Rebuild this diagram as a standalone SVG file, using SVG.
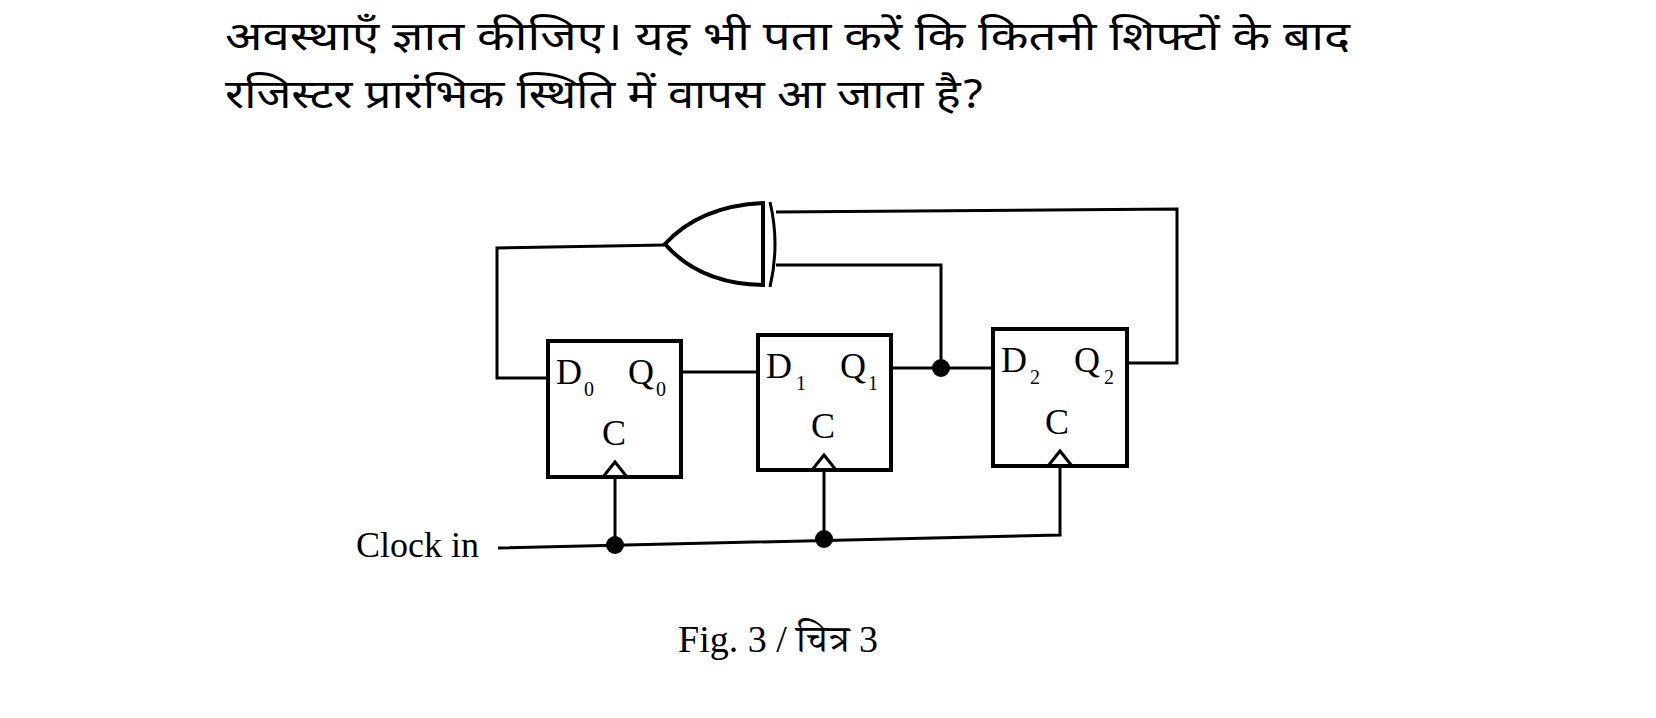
<svg xmlns="http://www.w3.org/2000/svg" width="1656" height="718" viewBox="0 0 1656 718">
<style>
.w{fill:none;stroke:#000;stroke-width:3}
.b{fill:#fff;stroke:#000;stroke-width:4}
.t{font-family:"Liberation Serif","Noto Serif",serif;font-size:36px;fill:#000}
.s{font-family:"Liberation Serif",serif;font-size:20px;fill:#000}
.h{font-family:"Noto Sans Devanagari","Noto Sans","Liberation Sans",sans-serif;font-size:40px;fill:#000}
</style>
<rect width="1656" height="718" fill="#fff"/>
<text class="h" x="225" y="50" textLength="1125" lengthAdjust="spacingAndGlyphs">अवस्थाएँ ज्ञात कीजिए। यह भी पता करें कि कितनी शिफ्टों के बाद</text>
<text class="h" x="225" y="108" textLength="760" lengthAdjust="spacingAndGlyphs">रजिस्टर प्रारंभिक स्थिति में वापस आ जाता है?</text>
<g id="connectors">
<polyline class="w" points="665,245 497,248 497,378 548,378"/>
<line class="w" x1="681" y1="372" x2="758" y2="372"/>
<line class="w" x1="891" y1="368" x2="993" y2="368"/>
<polyline class="w" points="941,368 941,265 776,265"/>
<polyline class="w" points="1127,363 1177,363 1177,209 776,212"/>
<polyline class="w" points="498,548 1060,535 1060,466"/>
<line class="w" x1="615" y1="545" x2="615" y2="477"/>
<line class="w" x1="824" y1="539" x2="824" y2="470"/>
<circle cx="941" cy="368" r="9"/>
<circle cx="615" cy="545" r="9"/>
<circle cx="824" cy="539" r="9"/>
</g>
<g id="xor">
<path class="b" d="M665,244 Q700,206 763,203 L763,285 Q700,284 665,244 Z"/>
<path class="w" stroke-width="4" d="M770,202 Q780,244 770,287"/>
</g>
<g id="ff0">
<rect class="b" x="548" y="341" width="133" height="136"/>
<path class="w" d="M603,477 L615,462 L627,477"/>
<text class="t" x="556" y="384">D</text><text class="s" x="584" y="396">0</text>
<text class="t" x="628" y="384">Q</text><text class="s" x="656" y="396">0</text>
<text class="t" x="602" y="445">C</text>
</g>
<g id="ff1">
<rect class="b" x="758" y="335" width="133" height="135"/>
<path class="w" d="M812,470 L824,455 L836,470"/>
<text class="t" x="766" y="378">D</text><text class="s" x="796" y="390">1</text>
<text class="t" x="840" y="378">Q</text><text class="s" x="868" y="390">1</text>
<text class="t" x="811" y="438">C</text>
</g>
<g id="ff2">
<rect class="b" x="993" y="329" width="134" height="137"/>
<path class="w" d="M1048,466 L1060,451 L1072,466"/>
<text class="t" x="1001" y="372">D</text><text class="s" x="1030" y="384">2</text>
<text class="t" x="1074" y="372">Q</text><text class="s" x="1104" y="384">2</text>
<text class="t" x="1045" y="434">C</text>
</g>
<text class="t" x="356" y="557">Clock in</text>
<text x="778" y="652" text-anchor="middle" style="font-family:'Liberation Serif','Noto Serif Devanagari','Noto Sans Devanagari',serif;font-size:38px">Fig. 3 / चित्र 3</text>
</svg>
